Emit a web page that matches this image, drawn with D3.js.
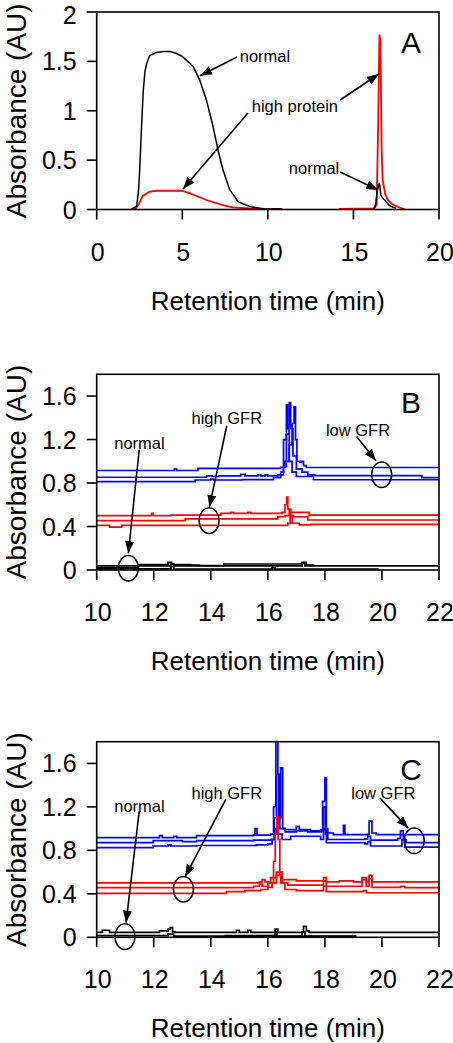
<!DOCTYPE html>
<html><head><meta charset="utf-8">
<script src="https://cdn.jsdelivr.net/npm/d3@7"></script>
<style>body{margin:0;background:#fff}svg{display:block}text{font-family:"Liberation Sans",Arial,sans-serif}</style>
</head><body>
<script>
// ---------- Panel A data (time min, absorbance AU) ----------
const normalA1 = [[2.0,0],[2.33,0.03],[2.45,0.2],[2.52,0.43],[2.62,0.84],[2.72,1.2],[2.82,1.4],[2.92,1.48],[3.1,1.56],[3.5,1.59],[3.9,1.6],[4.3,1.6],[4.66,1.58],[5.0,1.55],[5.25,1.51],[5.63,1.45],[6.02,1.31],[6.41,1.11],[6.8,0.84],[7.09,0.6],[7.38,0.4],[7.77,0.2],[8.26,0.08],[8.94,0.03],[9.71,0.008],[10.85,0.005]];
const normalA2 = [[16.2,0],[16.29,0.05],[16.4,0.2],[16.52,0.27],[16.6,0.15],[16.65,0.13],[16.8,0.1],[17.1,0.04],[17.5,0.01]];
const highA1 = [[2.23,0],[2.45,0.05],[2.7,0.14],[3.1,0.18],[3.5,0.19],[4.96,0.19],[5.4,0.165],[5.83,0.137],[6.41,0.096],[7.37,0.045],[7.95,0.022],[8.9,0.01],[10.8,0.003]];
const highA2 = [[14.15,0.005],[16.2,0.01],[16.36,0.05],[16.45,0.9],[16.52,1.77],[16.58,1.7],[16.65,0.6],[16.71,0.3],[16.85,0.16],[17.0,0.1],[17.3,0.05],[17.68,0.02],[18.03,0]];
const xTicksA = [0,5,10,15,20];
const yTicksA = [0,0.5,1,1.5,2];
const yLabelsA = ["0","0.5","1","1.5","2"];

// ---------- Panel B data ----------
const lowB1 = [[10,0.915],[12.72,0.93],[12.8,0.915],[13.55,0.935],[16.45,0.945],[16.6,1.0],[16.75,1.15],[16.85,1.35],[16.92,1.5],[16.97,1.2],[17.02,1.0],[17.12,0.99],[17.18,1.0],[17.25,0.96],[17.35,0.943],[22,0.943]];
const lowB2 = [[10,0.853],[13.85,0.866],[14.05,0.86],[14.3,0.866],[15.05,0.88],[15.2,0.866],[15.65,0.875],[15.75,0.866],[15.9,0.875],[16.0,0.866],[16.35,0.875],[16.55,0.95],[16.65,1.25],[16.75,1.54],[16.8,1.3],[16.88,1.05],[17.0,0.93],[17.2,0.9],[17.4,0.875],[17.65,0.868],[21.4,0.85],[22,0.85]];
const lowB3 = [[10,0.813],[13.45,0.828],[14.0,0.835],[14.1,0.828],[15.1,0.832],[16.2,0.85],[16.45,0.9],[16.55,1.2],[16.65,1.52],[16.7,1.3],[16.75,1.0],[16.85,0.9],[17.0,0.86],[17.6,0.83],[22,0.83]];
const highB1 = [[10,0.5],[11.92,0.52],[11.98,0.5],[12.6,0.505],[14.35,0.52],[14.7,0.53],[14.8,0.52],[15.3,0.53],[15.4,0.52],[16.5,0.53],[16.6,0.6],[16.66,0.67],[16.7,0.56],[16.8,0.53],[17.45,0.505],[22,0.505]];
const highB2 = [[10,0.455],[13.1,0.47],[14.0,0.47],[16.35,0.49],[16.6,0.5],[16.75,0.55],[16.8,0.5],[16.9,0.49],[17.4,0.46],[22,0.46]];
const highB3 = [[10,0.41],[10.45,0.395],[10.88,0.41],[16.7,0.43],[16.78,0.5],[16.85,0.43],[17.1,0.415],[17.5,0.42],[22,0.42]];
const normB1 = [[10,0.038],[12.6,0.06],[12.7,0.038],[17.2,0.06],[17.3,0.038],[22,0.038]];
const normB2 = [[10,0.02],[11.45,0.05],[12.5,0.07],[12.62,0.05],[13.3,0.045],[13.6,0.04],[14.45,0.055],[17.2,0.07],[17.35,0.045],[17.6,0.038]];
const normB3 = [[10,0.01],[11.0,0.02],[11.3,0.01],[12.6,0.03],[12.7,0.008],[16.15,0.02],[16.25,0.008],[19.85,0.005]];

// ---------- Panel C data ----------
const lowC1 = [[10,0.918],[12.2,0.935],[12.3,0.918],[12.7,0.93],[12.8,0.918],[13.5,0.935],[15.5,0.94],[15.55,1.0],[15.62,0.94],[16.1,0.95],[16.2,1.2],[16.28,1.8],[16.35,1.5],[16.42,1.0],[16.6,0.99],[17.0,1.02],[17.1,0.99],[17.5,0.98],[17.85,0.99],[17.92,1.25],[18.0,1.47],[18.05,1.0],[18.1,0.96],[18.3,0.945],[18.6,0.945],[18.65,1.03],[18.7,0.945],[19.5,0.95],[19.55,1.07],[19.65,0.96],[19.8,0.945],[22,0.945]];
const lowC2 = [[10,0.872],[11.98,0.89],[12.9,0.89],[13.0,0.88],[13.5,0.89],[15.5,0.895],[16.1,0.9],[16.22,1.1],[16.3,1.5],[16.38,1.1],[16.45,1.56],[16.52,1.0],[16.6,0.97],[17.0,0.98],[17.4,0.97],[17.88,0.98],[17.95,1.2],[18.02,0.95],[18.1,0.9],[19.4,0.905],[19.5,0.93],[19.6,0.895],[20.55,0.91],[20.65,0.98],[20.75,0.9],[20.85,0.872],[22,0.872]];
const lowC3 = [[10,0.826],[11.98,0.84],[12.4,0.84],[12.5,0.85],[12.6,0.84],[13.5,0.845],[15.6,0.85],[16.0,0.86],[16.15,0.9],[16.25,1.0],[16.32,0.95],[16.5,0.9],[16.8,0.93],[17.2,0.93],[17.85,0.9],[17.95,1.0],[18.05,0.87],[19.4,0.86],[19.5,0.88],[19.6,0.84],[20.6,0.84],[20.7,0.9],[20.8,0.83],[22,0.826]];
const highC1 = [[10,0.5],[15.7,0.51],[15.8,0.53],[15.9,0.51],[16.1,0.55],[16.2,0.7],[16.26,0.95],[16.32,1.11],[16.36,0.9],[16.42,0.6],[16.5,0.53],[17.0,0.52],[17.95,0.55],[18.05,0.51],[18.5,0.52],[19.0,0.51],[19.3,0.55],[19.45,0.51],[19.55,0.57],[19.65,0.51],[22,0.505]];
const highC2 = [[10,0.457],[15.5,0.47],[15.7,0.49],[15.8,0.47],[16.0,0.5],[16.2,0.55],[16.3,0.6],[16.4,0.58],[16.5,0.5],[16.7,0.48],[17.95,0.52],[18.05,0.47],[19.3,0.53],[19.45,0.47],[19.55,0.54],[19.65,0.46],[20.65,0.47],[20.8,0.457],[22,0.457]];
const highC3 = [[10,0.405],[14.55,0.42],[15.2,0.43],[15.75,0.44],[16.0,0.46],[16.15,0.5],[16.3,0.57],[16.45,0.5],[16.6,0.44],[17.0,0.43],[17.95,0.47],[18.05,0.42],[19.35,0.43],[19.45,0.41],[22,0.405]];
const normC1 = [[10,0.045],[10.2,0.065],[10.45,0.045],[12.2,0.06],[12.5,0.075],[12.58,0.09],[12.66,0.05],[12.75,0.045],[14.9,0.065],[15.0,0.045],[15.3,0.065],[15.4,0.045],[16.25,0.075],[16.35,0.045],[17.25,0.1],[17.35,0.06],[17.45,0.045],[22,0.045]];
const normC2 = [[10,0.015],[12.5,0.03],[12.7,0.01],[14.5,0.015],[16.25,0.05],[16.32,0.012],[17.2,0.05],[17.3,0.012],[19.1,0.012]];
const normC3 = [[14.5,0.008],[19.1,0.008]];

const xTicksBC = [10,12,14,16,18,20,22];
const yTicksBC = [0,0.4,0.8,1.2,1.6];
const yLabelsBC = ["0","0.4","0.8","1.2","1.6"];

// annotation texts
const annA = [
  {text:"normal", tx:9.83, ty:1.555, x1:8.2, y1:1.544, x2:6.04, y2:1.354},
  {text:"high protein", tx:11.58, ty:1.048, x1:8.84, y1:0.977, x2:5.04, y2:0.208},
  {text:null, x1:14.22, y1:1.109, x2:16.49, y2:1.372},
  {text:"normal", tx:12.7, ty:0.42, x1:14.22, y1:0.38, x2:16.44, y2:0.197}
];
const annB = [
  {text:"normal", tx:11.5, ty:1.168, x1:11.49, y1:1.106, x2:11.11, y2:0.154, ex:11.11, ey:0.016},
  {text:"high GFR", tx:14.56, ty:1.398, x1:14.56, y1:1.327, x2:13.95, y2:0.578, ex:13.94, ey:0.454},
  {text:"low GFR", tx:19.16, ty:1.284, x1:19.11, y1:1.229, x2:19.79, y2:1.005, ex:19.99, ey:0.876}
];
const annC = [
  {text:"normal", tx:11.5, ty:1.21, x1:11.49, y1:1.158, x2:11.03, y2:0.135, ex:10.99, ey:0.006},
  {text:"high GFR", tx:14.56, ty:1.327, x1:14.53, y1:1.272, x2:13.1, y2:0.559, ex:13.04, ey:0.442},
  {text:"low GFR", tx:20.05, ty:1.327, x1:19.93, y1:1.281, x2:20.92, y2:1.005, ex:21.13, ey:0.888}
];

const BLUE="#0000ff", RED="#ff0000", BLACK="#000";

const svg = d3.select("body").append("svg").attr("width",453).attr("height",1043);
const defs = svg.append("defs");
defs.append("marker").attr("id","arr").attr("viewBox","0 0 12 9").attr("refX",12).attr("refY",4.5)
  .attr("markerWidth",12).attr("markerHeight",9).attr("markerUnits","userSpaceOnUse").attr("orient","auto")
  .append("path").attr("d","M0,0L12,4.5L0,9Z").attr("fill","#000");

function panel(cfg, idx){
  const L=96.7, R=439, T=cfg.top, B=cfg.bottom;
  const x=d3.scaleLinear().domain(cfg.xd).range([L,R]);
  const y=d3.scaleLinear().domain(cfg.yd).range([B,T]);
  const g=svg.append("g");
  defs.append("clipPath").attr("id","clip"+idx).append("rect").attr("x",L).attr("y",T-1).attr("width",R-L).attr("height",B-T+1);
  const pg=g.append("g").attr("clip-path",`url(#clip${idx})`);
  cfg.series.forEach(s=>{
    const line=d3.line().x(d=>x(d[0])).y(d=>y(d[1])).curve(s.curve||d3.curveLinear);
    pg.append("path").attr("d",line(s.data)).attr("fill","none").attr("stroke",s.color).attr("stroke-width",s.w||1.7).attr("stroke-linejoin","miter");
  });
  g.append("rect").attr("x",L).attr("y",T).attr("width",R-L).attr("height",B-T).attr("fill","none").attr("stroke","#000").attr("stroke-width",1.6);
  cfg.yt.forEach((v,i)=>{
    g.append("line").attr("x1",L-10).attr("x2",L).attr("y1",y(v)).attr("y2",y(v)).attr("stroke","#000").attr("stroke-width",1.6);
    g.append("text").attr("x",L-20).attr("y",Math.max(y(v)+9,23.5)).attr("text-anchor","end").attr("font-size",25).text(cfg.yl[i]);
  });
  cfg.xt.forEach(v=>{
    g.append("line").attr("x1",x(v)).attr("x2",x(v)).attr("y1",B).attr("y2",B+10).attr("stroke","#000").attr("stroke-width",1.6);
    g.append("text").attr("x",x(v)+1).attr("y",B+51).attr("text-anchor","middle").attr("font-size",25).text(v);
  });
  g.append("text").attr("x",(L+R)/2).attr("y",B+100).attr("text-anchor","middle").attr("font-size",26).text("Retention time (min)");
  g.append("text").attr("transform",`translate(26,${(T+B)/2}) rotate(-90)`).attr("text-anchor","middle").attr("font-size",28).text("Absorbance (AU)");
  g.append("text").attr("x",411).attr("y",cfg.letterY).attr("text-anchor","middle").attr("font-size",30).text(cfg.letter);
  cfg.ann.forEach(a=>{
    if(a.text) g.append("text").attr("x",x(a.tx)).attr("y",y(a.ty)+6).attr("text-anchor","middle").attr("font-size",16.5).text(a.text);
    g.append("line").attr("x1",x(a.x1)).attr("y1",y(a.y1)).attr("x2",x(a.x2)).attr("y2",y(a.y2))
      .attr("stroke","#000").attr("stroke-width",1.6).attr("marker-end","url(#arr)");
    if(a.ex!==undefined) g.append("ellipse").attr("cx",x(a.ex)).attr("cy",y(a.ey)).attr("rx",10).attr("ry",12.8)
      .attr("fill","none").attr("stroke","#000").attr("stroke-width",1.5);
  });
}

const step=d3.curveStepAfter;
panel({top:12,bottom:209.5,xd:[0,20],yd:[0,2],xt:xTicksA,yt:yTicksA,yl:yLabelsA,letter:"A",letterY:53,ann:annA,
  series:[{data:highA1,color:RED,w:1.8},{data:normalA1,color:BLACK,w:1.5},{data:highA2,color:RED,w:1.8},{data:normalA2,color:BLACK,w:1.5}]},0);
panel({top:374.3,bottom:570,xd:[10,22],yd:[0,1.8],xt:xTicksBC,yt:yTicksBC,yl:yLabelsBC,letter:"B",letterY:413,ann:annB,
  series:[lowB1,lowB2,lowB3].map(d=>({data:d,color:BLUE,curve:step}))
   .concat([highB1,highB2,highB3].map(d=>({data:d,color:RED,curve:step})))
   .concat([normB1,normB2,normB3].map(d=>({data:d,color:BLACK,curve:step})))},1);
panel({top:741.7,bottom:937.3,xd:[10,22],yd:[0,1.8],xt:xTicksBC,yt:yTicksBC,yl:yLabelsBC,letter:"C",letterY:780,ann:annC,
  series:[lowC1,lowC2,lowC3].map(d=>({data:d,color:BLUE,curve:step}))
   .concat([highC1,highC2,highC3].map(d=>({data:d,color:RED,curve:step})))
   .concat([normC1,normC2,normC3].map(d=>({data:d,color:BLACK,curve:step})))},2);
</script>
</body></html>
